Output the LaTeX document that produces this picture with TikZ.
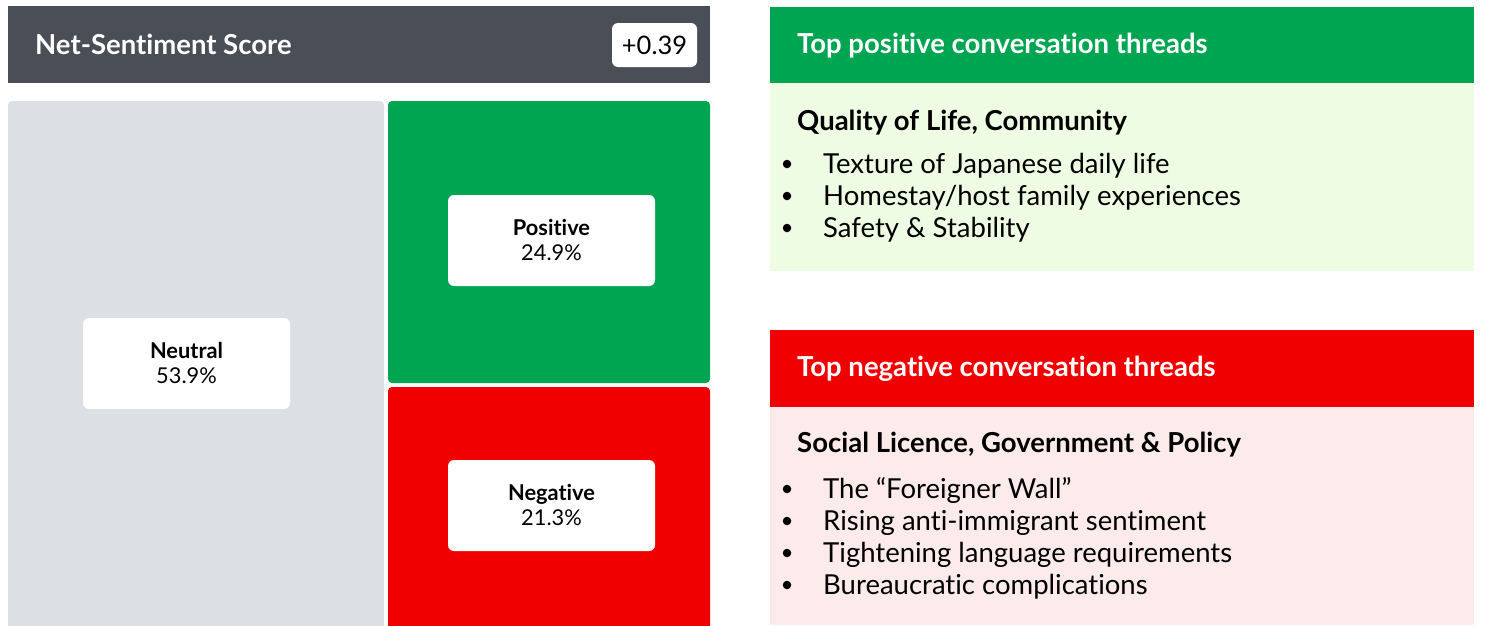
\documentclass[tikz,border=0pt]{standalone}
\usepackage{fontspec}
\setmainfont{Lato}[Ligatures={NoCommon}]
\definecolor{hdrgray}{HTML}{4A4E56}
\definecolor{neugray}{HTML}{DCDFE4}
\definecolor{posgreen}{HTML}{00A551}
\definecolor{negred}{HTML}{F00000}
\definecolor{posbg}{HTML}{EEFCE4}
\definecolor{negbg}{HTML}{FDEBEB}
\tikzset{
  tile/.style={rounded corners=4pt},
  lbox/.style={fill=white, rounded corners=6pt, draw=none},
  hdrtxt/.style={anchor=base west, text=white, font=\bfseries\fontsize{27.5}{30}\selectfont, inner sep=0},
  subtxt/.style={anchor=base west, text=black, font=\bfseries\fontsize{27.5}{30}\selectfont, inner sep=0},
  itemtxt/.style={anchor=base west, text=black, font=\fontsize{27.5}{30}\selectfont, inner sep=0},
  lbltop/.style={anchor=base, font=\bfseries\fontsize{21.8}{24}\selectfont, inner sep=0},
  lblbot/.style={anchor=base, font=\fontsize{21.8}{24}\selectfont, inner sep=0},
  bul/.style={circle, fill=black, inner sep=0, minimum size=8.5pt}
}
\begin{document}
\begin{tikzpicture}[x=1pt,y=-1pt]
\useasboundingbox (0,0) rectangle (1485,625);
% left header
\fill[hdrgray] (8,6) rectangle (710,83);
\node[hdrtxt] (nst) at (35,54) {Net-Sentiment Score};
\fill[white, rounded corners=6pt] (612,23) rectangle (697,67);
\node[anchor=base, font=\fontsize{25.5}{28}\selectfont, inner sep=0] (score) at (654.5,54.5) {+0.39};
% tiles
\fill[neugray, tile] (8,101) rectangle (384,640);
\fill[posgreen, tile] (388,101) rectangle (710,383);
\fill[negred, tile] (388,387) rectangle (710,640);
% label boxes
\fill[lbox] (83,318) rectangle (290,409);
\node[lbltop] (neut) at (186.5,358.5) {Neutral};
\node[lblbot] (neutv) at (186.5,383.5) {53.9\%};
\fill[lbox] (448,195) rectangle (655,286);
\node[lbltop] (posi) at (551.5,235.5) {Positive};
\node[lblbot] (posiv) at (551.5,260.5) {24.9\%};
\fill[lbox] (448,460) rectangle (655,551);
\node[lbltop] (nega) at (551.5,500.5) {Negative};
\node[lblbot] (negav) at (551.5,525.5) {21.3\%};
% right positive panel
\fill[posgreen] (770,7) rectangle (1474,83);
\fill[posbg] (770,83) rectangle (1474,271);
\node[hdrtxt] (ph) at (797,53) {Top positive conversation threads};
\node[subtxt] (ps) at (797,130) {Quality of Life, Community};
\node[bul] (pb1) at (787,164) {};
\node[itemtxt] (pi1) at (823,173) {Texture of Japanese daily life};
\node[bul] (pb2) at (787,196) {};
\node[itemtxt] (pi2) at (823,205) {Homestay/host family experiences};
\node[bul] (pb3) at (787,228) {};
\node[itemtxt] (pi3) at (823,237) {Safety \& Stability};
% right negative panel
\fill[negred] (770,330) rectangle (1474,407);
\fill[negbg] (770,407) rectangle (1474,625);
\node[hdrtxt] (nh) at (797,376) {Top negative conversation threads};
\node[subtxt] (ns) at (797,452) {Social Licence, Government \& Policy};
\node[bul] (nb1) at (787,489) {};
\node[itemtxt] (ni1) at (823,498) {The “Foreigner Wall”};
\node[bul] (nb2) at (787,521) {};
\node[itemtxt] (ni2) at (823,530) {Rising anti-immigrant sentiment};
\node[bul] (nb3) at (787,553) {};
\node[itemtxt] (ni3) at (823,562) {Tightening language requirements};
\node[bul] (nb4) at (787,585) {};
\node[itemtxt] (ni4) at (823,594) {Bureaucratic complications};
\end{tikzpicture}
\end{document}
